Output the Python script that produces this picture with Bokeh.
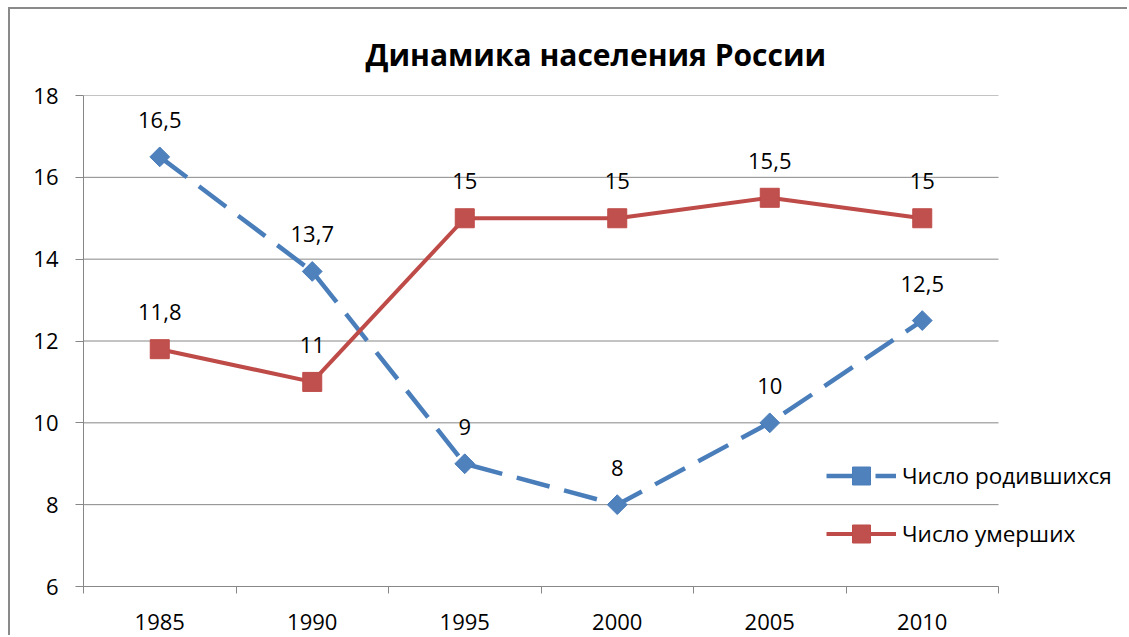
import math
from bokeh.plotting import figure
from bokeh.models import (ColumnDataSource, LabelSet, FixedTicker, Legend, LegendItem, Range1d)
from bokeh.embed import file_html
from bokeh.resources import INLINE
from bokeh.core.properties import value

# ---- data ----
years = ["1985", "1990", "1995", "2000", "2005", "2010"]
births = [16.5, 13.7, 9, 8, 10, 12.5]
deaths = [11.8, 11, 15, 15, 15.5, 15]
y_ticks = [6, 8, 10, 12, 14, 16, 18]
title_text = "Динамика населения России"
series_names = ["Число родившихся", "Число умерших"]

FONT = "Open Sans"
BLUE = "#4A7EBB"
BLUE_FILL = "#4F81BD"
RED = "#BE4B48"
RED_FILL = "#C0504D"
GRID = "#878787"


def fmt(v):
    return ("%g" % v).replace(".", ",")


xs = list(range(len(years)))
src_b = ColumnDataSource(dict(x=xs, y=births, t=[fmt(v) for v in births]))
src_d = ColumnDataSource(dict(x=xs, y=deaths, t=[fmt(v) for v in deaths]))

W, H = 1119, 628
MB_L, MB_R, MB_T, MB_B = 73, 0, 86, 51
CAT_PX = 152.5
x_lo = -0.5
x_hi_cats = len(years) - 0.5
x_end = x_lo + (W - MB_L - MB_R) / CAT_PX

p = figure(width=W, height=H, output_backend="svg", toolbar_location=None,
           x_range=Range1d(x_lo, x_end), y_range=Range1d(y_ticks[0], y_ticks[-1]),
           min_border_left=MB_L, min_border_right=MB_R, min_border_top=MB_T, min_border_bottom=MB_B,
           background_fill_color="white", border_fill_color="white",
           outline_line_color=None)
p.styles = {"margin-left": "8px", "margin-top": "7px",
            "border-top": "2px solid #8a8a8a", "border-left": "2px solid #8a8a8a"}

# title
p.title.text = title_text
p.title.text_font = FONT
p.title.text_font_size = "30px"
p.title.text_font_style = "bold"
p.title.align = "left"
p.title.offset = 282
p.title.standoff = 41
p.title.text_color = "black"

# y axis
p.yaxis.ticker = FixedTicker(ticks=y_ticks)
p.yaxis.axis_line_color = GRID
p.yaxis.major_tick_line_color = GRID
p.yaxis.major_tick_out = 8
p.yaxis.major_tick_in = 0
p.yaxis.minor_tick_line_color = None
p.yaxis.major_label_text_font = FONT
p.yaxis.major_label_text_font_size = "22px"
p.yaxis.major_label_text_color = "black"
p.yaxis.major_label_standoff = 17

# x axis: labels at category centres, ticks at category boundaries
bounds = [x_lo + i for i in range(len(years) + 1)]
p.xaxis.ticker = FixedTicker(ticks=xs, minor_ticks=bounds)
p.xaxis.major_label_overrides = {i: y for i, y in enumerate(years)}
p.xaxis.bounds = (x_lo, x_hi_cats)
p.xaxis.major_label_text_font = FONT
p.xaxis.major_label_text_font_size = "22px"
p.xaxis.major_label_text_color = "black"
p.xaxis.major_label_standoff = 20
p.xaxis.axis_line_color = GRID
p.xaxis.major_tick_out = 0
p.xaxis.major_tick_in = 0
p.xaxis.major_tick_line_color = None
p.xaxis.minor_tick_line_color = GRID
p.xaxis.minor_tick_out = 7
p.xaxis.minor_tick_in = 0

p.xgrid.grid_line_color = None
p.ygrid.grid_line_color = None

# horizontal gridlines spanning only the category area
p.segment(x0=[x_lo] * len(y_ticks), x1=[x_hi_cats] * len(y_ticks), y0=y_ticks, y1=y_ticks,
          line_color=GRID, line_width=1)

# series
lb = p.line("x", "y", source=src_b, line_color=BLUE, line_width=4.5, line_dash="34 15")
mb = p.scatter("x", "y", source=src_b, marker="square", size=14, angle=math.pi / 4,
               fill_color=BLUE_FILL, line_color=BLUE)
ld = p.line("x", "y", source=src_d, line_color=RED, line_width=4)
md = p.scatter("x", "y", source=src_d, marker="square", size=19,
               fill_color=RED_FILL, line_color=RED)

for src in (src_b, src_d):
    p.add_layout(LabelSet(x="x", y="y", text="t", source=src, y_offset=37,
                          text_align="center", text_baseline="middle",
                          text_font=value(FONT), text_font_size="22px", text_color="black"))

legend = Legend(items=[LegendItem(label=series_names[0], renderers=[lb, mb]),
                       LegendItem(label=series_names[1], renderers=[ld, md])],
                location=(743, 30), orientation="vertical",
                background_fill_alpha=0, border_line_color=None,
                padding=0, margin=0, spacing=13,
                glyph_width=70, glyph_height=45, label_height=20, label_standoff=6,
                label_text_font=FONT, label_text_font_size="22.5px", label_text_color="black")
p.add_layout(legend)

open("out.html", "w").write(file_html(p, INLINE))
